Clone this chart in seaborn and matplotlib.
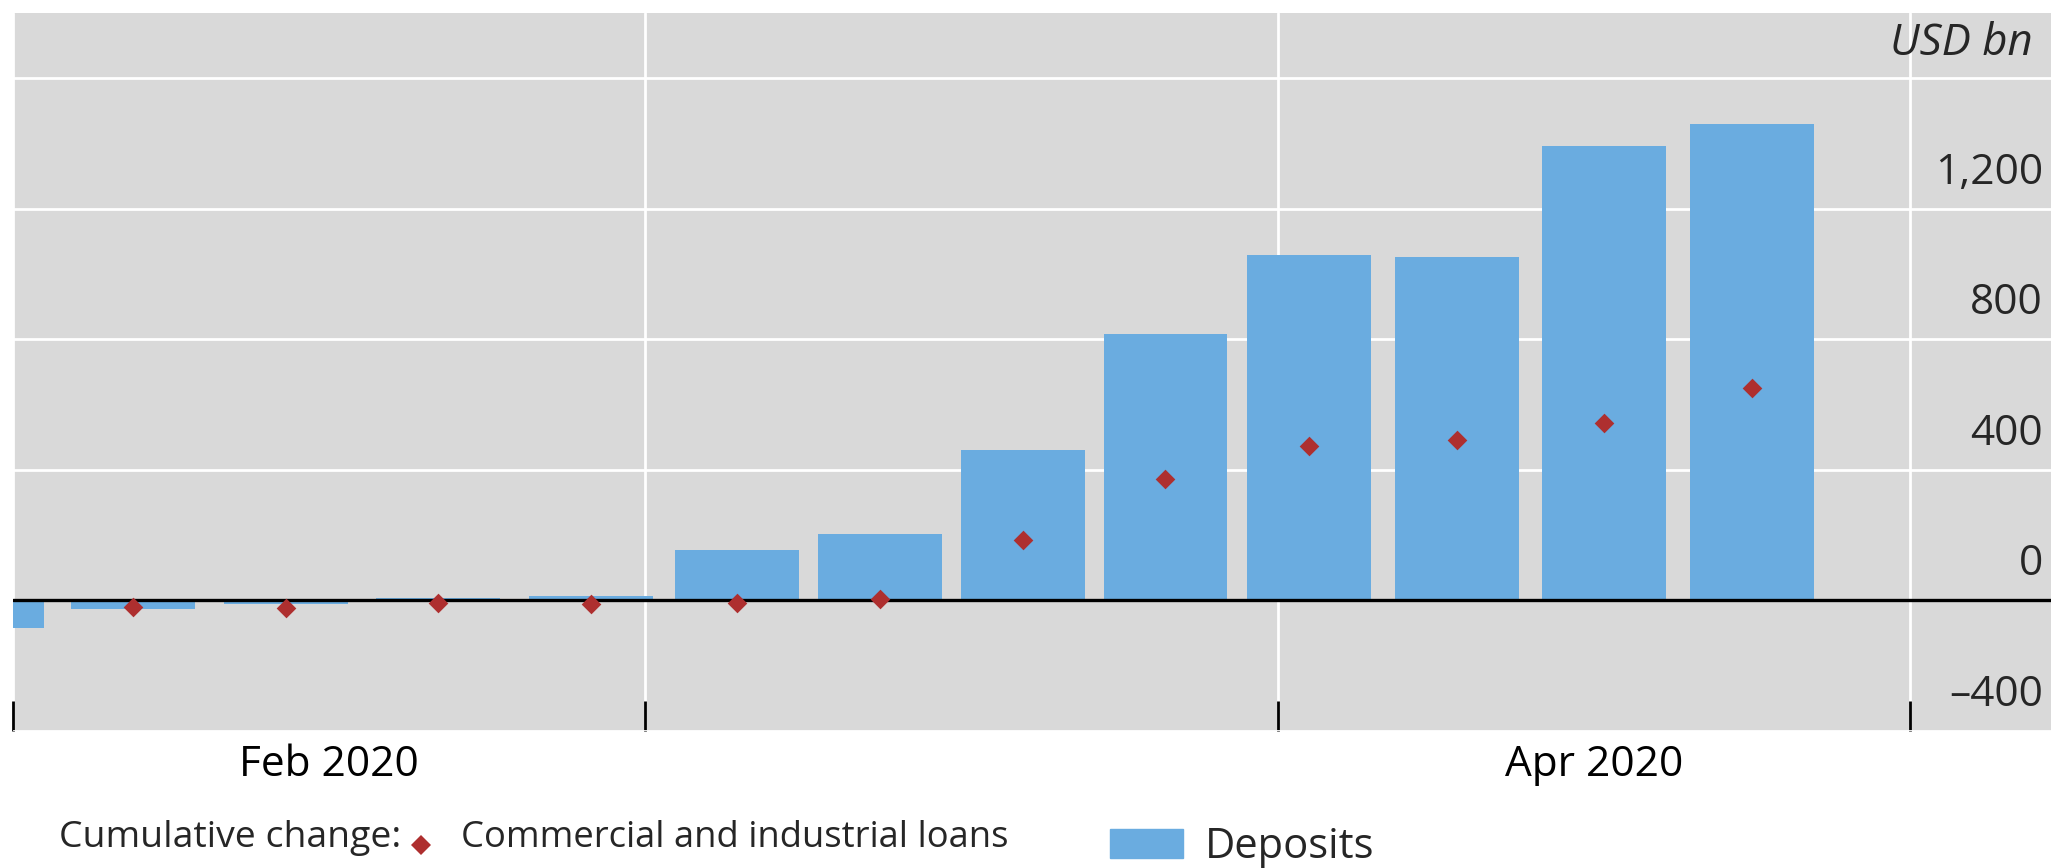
import numpy as np
import pandas as pd
import matplotlib
matplotlib.use("Agg")
import matplotlib.pyplot as plt
import seaborn as sns
from matplotlib.lines import Line2D
from matplotlib.patches import Patch
from matplotlib.legend_handler import HandlerLine2D

# weekly observations (cumulative change, USD bn)
dates = ["2020-01-30", "2020-02-06", "2020-02-13", "2020-02-20", "2020-02-27",
         "2020-03-05", "2020-03-12", "2020-03-19", "2020-03-26",
         "2020-04-02", "2020-04-09", "2020-04-16", "2020-04-23"]
deposits = [-85, -27, -10, 9, 15, 156, 203, 460, 815, 1057, 1051, 1393, 1460]
loans = [np.nan, -20, -22, -8, -12, -8, 4, 186, 372, 472, 491, 544, 652]

y_ticks = [-400, 0, 400, 800, 1200, 1600]
y_labels = ["\u2013400", "0", "400", "800", "1,200"]
month_labels = ["Feb 2020", "", "Apr 2020"]

BAR = "#6AACE0"
RED = "#AE2F2F"
FS = 30.5

df = pd.DataFrame({"date": pd.to_datetime(dates), "deposits": deposits, "loans": loans})
d = df["date"]
# every month gets the same width on the axis
df["pos"] = (d.dt.year - 2020) * 12 + d.dt.month - 2 + (d.dt.day - 0.5) / d.dt.days_in_month

sns.set_theme(style="darkgrid", rc={"axes.facecolor": "#D9D9D9"})
plt.rcParams["font.family"] = ["Open Sans", "DejaVu Sans"]

W, H = 2051, 868
fig = plt.figure(figsize=(W / 100, H / 100), dpi=100)
ax = fig.add_axes([13 / W, 1 - 731 / H, 1 - 13 / W, (731 - 13) / H])

spacing = np.diff(np.sort(df["pos"].values)).min()
sns.barplot(data=df, x="pos", y="deposits", native_scale=True, width=0.196 / spacing,
            color=BAR, saturation=1, linewidth=0, errorbar=None, ax=ax, zorder=2)
ax.axhline(0, color="black", linewidth=2.4, zorder=3)
sns.scatterplot(data=df, x="pos", y="loans", marker="D", s=100, color=RED,
                linewidth=0, ax=ax, zorder=4, legend=False)

ax.set_xlim(0, 3.223)
ax.set_ylim(-400, 1800)
ax.set_xlabel("")
ax.set_ylabel("")

ax.set_xticks([0, 1, 2, 3])
ax.set_xticklabels([])
ax.set_xticks([0.5, 1.5, 2.5], minor=True)
ax.set_xticklabels(month_labels, minor=True)
ax.tick_params(axis="x", which="major", bottom=True, direction="in", length=21.6,
               width=2, color="black", labelbottom=False)
ax.tick_params(axis="x", which="minor", bottom=True, length=0, pad=9,
               labelsize=FS, labelcolor="black")

ax.set_yticks(y_ticks)
ax.tick_params(axis="y", left=False, right=False, labelleft=False)
ax.grid(which="major", color="white", linewidth=2)
ax.grid(which="minor", visible=False)
for s in ax.spines.values():
    s.set_visible(False)

for v, lab in zip(y_ticks, y_labels):
    ax.annotate(lab, xy=(1, v), xycoords=("axes fraction", "data"), xytext=(-8, 36),
                textcoords="offset pixels", ha="right", va="center", fontsize=FS)
ax.annotate("USD bn", xy=(1, 1600), xycoords=("axes fraction", "data"), xytext=(-18, 35),
            textcoords="offset pixels", ha="right", va="center", fontsize=31.5,
            style="italic")


def lower_marker(leg_handle, orig):
    # legend marker sits a little under the text centre, as in the original
    leg_handle.update_from(orig)
    leg_handle.set_ydata(np.asarray(leg_handle.get_ydata()) - 8)


fig.text(59 / W, 1 - 838 / H, "Cumulative change:", ha="left", va="center", fontsize=26.9)
fig.legend(handles=[Line2D([], [], marker="D", linestyle="none", markersize=10,
                           color=RED, markeredgewidth=0)],
           labels=["Commercial and industrial loans"], loc="center left",
           bbox_to_anchor=(410 / W, 1 - 838 / H), frameon=False, borderpad=0,
           borderaxespad=0, handlelength=0.6, handletextpad=0.815, fontsize=26.2,
           handler_map={Line2D: HandlerLine2D(update_func=lower_marker)})
fig.legend(handles=[Patch(color=BAR)], labels=["Deposits"], loc="center left",
           bbox_to_anchor=(1110 / W, 1 - 847 / H), frameon=False, borderpad=0,
           borderaxespad=0, handlelength=1.76, handleheight=0.72, handletextpad=0.52,
           fontsize=30)

fig.savefig("out.png", dpi=100)
